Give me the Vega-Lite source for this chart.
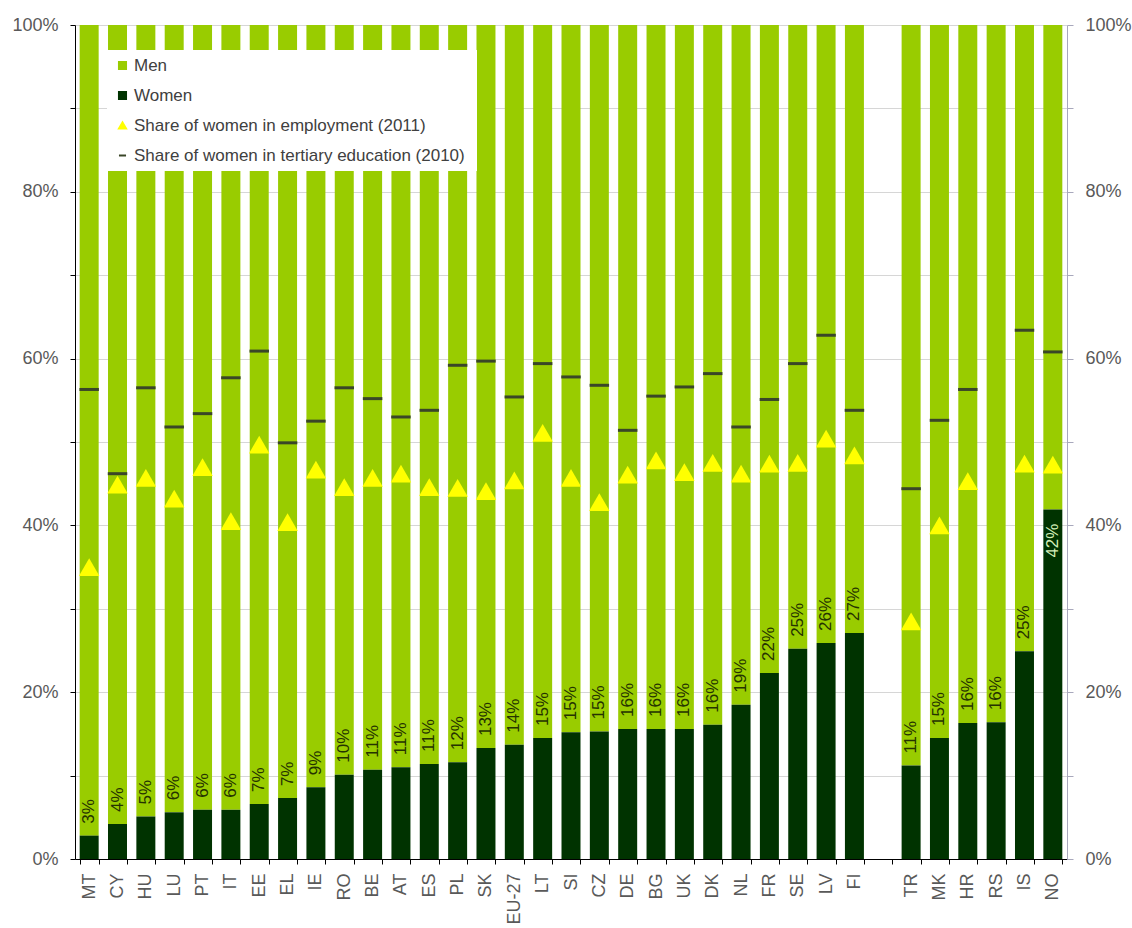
{
  "$schema": "https://vega.github.io/schema/vega-lite/v6.json",
  "width": 992,
  "height": 834,
  "autosize": "none",
  "padding": {"left": 75, "top": 25, "right": 65, "bottom": 69},
  "background": "white",
  "config": {
    "view": {"stroke": null},
    "legend": {
      "orient": "none",
      "legendX": 32,
      "legendY": 25,
      "fillColor": "white",
      "padding": 7,
      "labelFont": "Liberation Sans",
      "labelFontSize": 17,
      "labelColor": "#404040",
      "labelOffset": 3,
      "symbolSize": 50,
      "rowPadding": 12,
      "labelLimit": 600
    }
  },
  "data": {
    "values": [
      {"c": "MT", "w": 2.8, "emp": 35.0, "tert": 56.3, "lab": "3%"},
      {"c": "CY", "w": 4.2, "emp": 44.9, "tert": 46.2, "lab": "4%"},
      {"c": "HU", "w": 5.1, "emp": 45.7, "tert": 56.5, "lab": "5%"},
      {"c": "LU", "w": 5.6, "emp": 43.2, "tert": 51.8, "lab": "6%"},
      {"c": "PT", "w": 5.9, "emp": 47.0, "tert": 53.4, "lab": "6%"},
      {"c": "IT", "w": 5.9, "emp": 40.5, "tert": 57.7, "lab": "6%"},
      {"c": "EE", "w": 6.6, "emp": 49.7, "tert": 60.9, "lab": "7%"},
      {"c": "EL", "w": 7.3, "emp": 40.4, "tert": 49.9, "lab": "7%"},
      {"c": "IE", "w": 8.6, "emp": 46.7, "tert": 52.5, "lab": "9%"},
      {"c": "RO", "w": 10.1, "emp": 44.6, "tert": 56.5, "lab": "10%"},
      {"c": "BE", "w": 10.7, "emp": 45.7, "tert": 55.2, "lab": "11%"},
      {"c": "AT", "w": 11.0, "emp": 46.2, "tert": 53.0, "lab": "11%"},
      {"c": "ES", "w": 11.4, "emp": 44.6, "tert": 53.8, "lab": "11%"},
      {"c": "PL", "w": 11.6, "emp": 44.5, "tert": 59.2, "lab": "12%"},
      {"c": "SK", "w": 13.3, "emp": 44.1, "tert": 59.7, "lab": "13%"},
      {"c": "EU-27", "w": 13.7, "emp": 45.4, "tert": 55.4, "lab": "14%"},
      {"c": "LT", "w": 14.5, "emp": 51.1, "tert": 59.4, "lab": "15%"},
      {"c": "SI", "w": 15.2, "emp": 45.7, "tert": 57.8, "lab": "15%"},
      {"c": "CZ", "w": 15.3, "emp": 42.8, "tert": 56.8, "lab": "15%"},
      {"c": "DE", "w": 15.6, "emp": 46.1, "tert": 51.4, "lab": "16%"},
      {"c": "BG", "w": 15.6, "emp": 47.8, "tert": 55.5, "lab": "16%"},
      {"c": "UK", "w": 15.6, "emp": 46.4, "tert": 56.6, "lab": "16%"},
      {"c": "DK", "w": 16.1, "emp": 47.5, "tert": 58.2, "lab": "16%"},
      {"c": "NL", "w": 18.5, "emp": 46.2, "tert": 51.8, "lab": "19%"},
      {"c": "FR", "w": 22.3, "emp": 47.4, "tert": 55.1, "lab": "22%"},
      {"c": "SE", "w": 25.2, "emp": 47.5, "tert": 59.4, "lab": "25%"},
      {"c": "LV", "w": 25.9, "emp": 50.4, "tert": 62.8, "lab": "26%"},
      {"c": "FI", "w": 27.1, "emp": 48.4, "tert": 53.8, "lab": "27%"},
      {"c": "TR", "w": 11.2, "emp": 28.5, "tert": 44.4, "lab": "11%"},
      {"c": "MK", "w": 14.5, "emp": 40.0, "tert": 52.6, "lab": "15%"},
      {"c": "HR", "w": 16.3, "emp": 45.3, "tert": 56.3, "lab": "16%"},
      {"c": "RS", "w": 16.4, "emp": null, "tert": null, "lab": "16%"},
      {"c": "IS", "w": 24.9, "emp": 47.4, "tert": 63.4, "lab": "25%"},
      {"c": "NO", "w": 41.9, "emp": 47.3, "tert": 60.8, "lab": "42%"}
    ]
  },
  "encoding": {
    "x": {
      "field": "c",
      "type": "nominal",
      "sort": null,
      "scale": {
        "domain": ["MT", "CY", "HU", "LU", "PT", "IT", "EE", "EL", "IE", "RO", "BE", "AT", "ES", "PL", "SK", "EU-27", "LT", "SI", "CZ", "DE", "BG", "UK", "DK", "NL", "FR", "SE", "LV", "FI", " ", "TR", "MK", "HR", "RS", "IS", "NO"],
        "paddingInner": 0.33,
        "paddingOuter": 0.165
      },
      "axis": {
        "title": null,
        "labelAngle": 270,
        "labelAlign": "right",
        "labelBaseline": "middle",
        "labelPadding": 9,
        "labelFont": "Liberation Sans",
        "labelFontSize": 18,
        "labelColor": "#595959",
        "tickBand": "extent",
        "tickSize": 5,
        "tickColor": "#000000",
        "domainColor": "#000000",
        "grid": false
      }
    }
  },
  "layer": [
    {
      "mark": {"type": "bar"},
      "encoding": {
        "y": {
          "field": "w",
          "type": "quantitative",
          "scale": {"domain": [0, 100], "nice": false},
          "axis": {
            "orient": "left",
            "title": null,
            "values": [0, 10, 20, 30, 40, 50, 60, 70, 80, 90, 100],
            "labelExpr": "datum.value % 20 == 0 ? datum.value + '%' : ''",
            "grid": true,
            "gridColor": "#d6d6d6",
            "domainColor": "#000000",
            "tickColor": "#000000",
            "tickSize": 5,
            "labelPadding": 12,
            "labelFont": "Liberation Sans",
            "labelFontSize": 18,
            "labelColor": "#595959"
          }
        },
        "y2": {"datum": 100},
        "color": {
          "datum": "Men",
          "type": "nominal",
          "scale": {
            "domain": ["Men", "Women", "Share of women in employment  (2011)", "Share of women in tertiary education  (2010)"],
            "range": ["#99cc00", "#003300", "#ffff00", "#3a4628"]
          },
          "legend": {
            "title": null,
            "encode": {
              "symbols": {
                "update": {
                  "stroke": {"scale": "color", "field": "value"},
                  "strokeWidth": {"value": 2}
                }
              }
            }
          }
        }
      }
    },
    {
      "mark": {"type": "bar"},
      "encoding": {
        "y": {
          "field": "w",
          "type": "quantitative",
          "axis": {
            "orient": "right",
            "title": null,
            "values": [0, 10, 20, 30, 40, 50, 60, 70, 80, 90, 100],
            "labelExpr": "datum.value % 20 == 0 ? datum.value + '%' : ''",
            "grid": false,
            "domainColor": "#a8a8bc",
            "tickColor": "#a8a8bc",
            "tickSize": 6,
            "labelPadding": 12,
            "labelFont": "Liberation Sans",
            "labelFontSize": 18,
            "labelColor": "#595959"
          }
        },
        "color": {"datum": "Women", "type": "nominal", "legend": {"title": null}}
      }
    },
    {
      "mark": {"type": "point", "filled": true, "size": 420, "opacity": 1},
      "encoding": {
        "y": {"field": "emp", "type": "quantitative", "axis": null},
        "color": {"datum": "Share of women in employment  (2011)", "type": "nominal", "legend": {"title": null}},
        "shape": {
          "datum": "Share of women in employment  (2011)",
          "type": "nominal",
          "scale": {
            "domain": ["Men", "Women", "Share of women in employment  (2011)", "Share of women in tertiary education  (2010)"],
            "range": ["square", "square", "triangle-up", "stroke"]
          },
          "legend": {"title": null}
        }
      }
    },
    {
      "mark": {"type": "point", "filled": false, "size": 380, "strokeWidth": 3, "opacity": 1},
      "encoding": {
        "y": {"field": "tert", "type": "quantitative", "axis": null},
        "color": {"datum": "Share of women in tertiary education  (2010)", "type": "nominal", "legend": {"title": null}},
        "shape": {"datum": "Share of women in tertiary education  (2010)", "type": "nominal", "legend": {"title": null}}
      }
    },
    {
      "transform": [{"filter": "datum.c != 'NO'"}],
      "mark": {"type": "text", "angle": 270, "align": "left", "baseline": "middle", "dx": 12, "font": "Liberation Sans", "fontSize": 17, "color": "#253300"},
      "encoding": {
        "y": {"field": "w", "type": "quantitative", "axis": null},
        "text": {"field": "lab"}
      }
    },
    {
      "transform": [{"filter": "datum.c == 'NO'"}],
      "mark": {"type": "text", "angle": 270, "align": "right", "baseline": "middle", "dx": -14, "font": "Liberation Sans", "fontSize": 17, "color": "#d4efb8"},
      "encoding": {
        "y": {"field": "w", "type": "quantitative", "axis": null},
        "text": {"field": "lab"}
      }
    }
  ],
  "resolve": {"axis": {"y": "independent"}}
}
